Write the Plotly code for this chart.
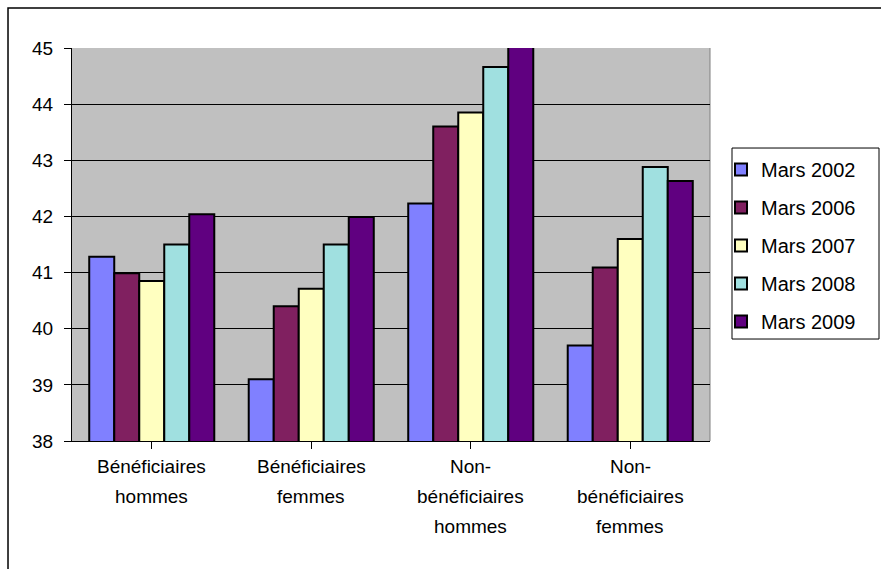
import plotly.graph_objects as go

# Category labels (line breaks mark the wrapped lines under each group)
categories = [
    "Bénéficiaires\nhommes",
    "Bénéficiaires\nfemmes",
    "Non-\nbénéficiaires\nhommes",
    "Non-\nbénéficiaires\nfemmes",
]

series_names = ["Mars 2002", "Mars 2006", "Mars 2007", "Mars 2008", "Mars 2009"]

mars_2002 = [41.28, 39.10, 42.23, 39.70]
mars_2006 = [40.99, 40.40, 43.60, 41.09]
mars_2007 = [40.85, 40.71, 43.85, 41.60]
mars_2008 = [41.50, 41.50, 44.66, 42.88]
mars_2009 = [42.04, 41.99, 45.05, 42.63]

series_values = [mars_2002, mars_2006, mars_2007, mars_2008, mars_2009]
series_colors = ["#8080FF", "#802060", "#FFFFC0", "#A0E0E0", "#600080"]

y_ticks = [38, 39, 40, 41, 42, 43, 44, 45]

FONT = "Liberation Sans, Arial, sans-serif"

fig = go.Figure()
for name, vals, col in zip(series_names, series_values, series_colors):
    fig.add_trace(go.Bar(
        x=list(range(len(categories))),
        y=vals,
        name=name,
        legendgroup=name,
        marker=dict(color=col, line=dict(color="black", width=2)),
    ))

# Multi-line category labels, one annotation per line
for i, label in enumerate(categories):
    for j, line in enumerate(label.split("\n")):
        fig.add_annotation(
            x=i, xref="x", y=-0.066 - j * 0.076, yref="paper",
            text=line, showarrow=False, yanchor="middle", xanchor="center",
            font=dict(family=FONT, size=19, color="black"),
        )

# Outer chart frame
fig.add_shape(type="rect", xref="paper", yref="paper",
              x0=-0.1003, y0=-0.40, x1=1.40, y1=1.1018,
              line=dict(color="black", width=1.5), fillcolor="rgba(0,0,0,0)",
              layer="below")

# Legend frame
fig.add_shape(type="rect", xref="paper", yref="paper",
              x0=1.0345, y0=0.2595, x1=1.2649, y1=0.7455,
              line=dict(color="black", width=1), fillcolor="white",
              layer="below")

# Right edge of the plot area
fig.add_shape(type="line", xref="paper", yref="paper",
              x0=1, y0=0, x1=1, y1=1,
              line=dict(color="#808080", width=1), layer="below")

fig.update_layout(
    width=881, height=569,
    margin=dict(l=72, r=171, t=48, b=128),
    paper_bgcolor="white",
    plot_bgcolor="#C0C0C0",
    barmode="group",
    bargap=0.216,
    bargroupgap=0,
    font=dict(family=FONT, size=19, color="black"),
    showlegend=True,
    legend=dict(
        x=(721 - 72) / 638, y=(441 - 150) / 393, xanchor="left", yanchor="top",
        borderwidth=0, bgcolor="rgba(0,0,0,0)",
        font=dict(family=FONT, size=20, color="black"),
        tracegroupgap=9, traceorder="grouped",
    ),
    xaxis=dict(
        range=[-0.5, len(categories) - 0.5],
        tickmode="array", tickvals=list(range(len(categories))),
        ticktext=[""] * len(categories),
        tickson="boundaries", ticks="outside", ticklen=7, tickcolor="black",
        showline=True, linecolor="black", linewidth=1,
        showgrid=False, zeroline=False,
    ),
    yaxis=dict(
        range=[38, 45], tickmode="array", tickvals=y_ticks,
        ticks="outside", ticklen=7, tickcolor="black", ticklabelstandoff=7,
        showline=True, linecolor="black", linewidth=1,
        showgrid=True, gridcolor="black", gridwidth=1,
        zeroline=False,
        tickfont=dict(family=FONT, size=19, color="black"),
    ),
)

fig.write_html("out.html")
